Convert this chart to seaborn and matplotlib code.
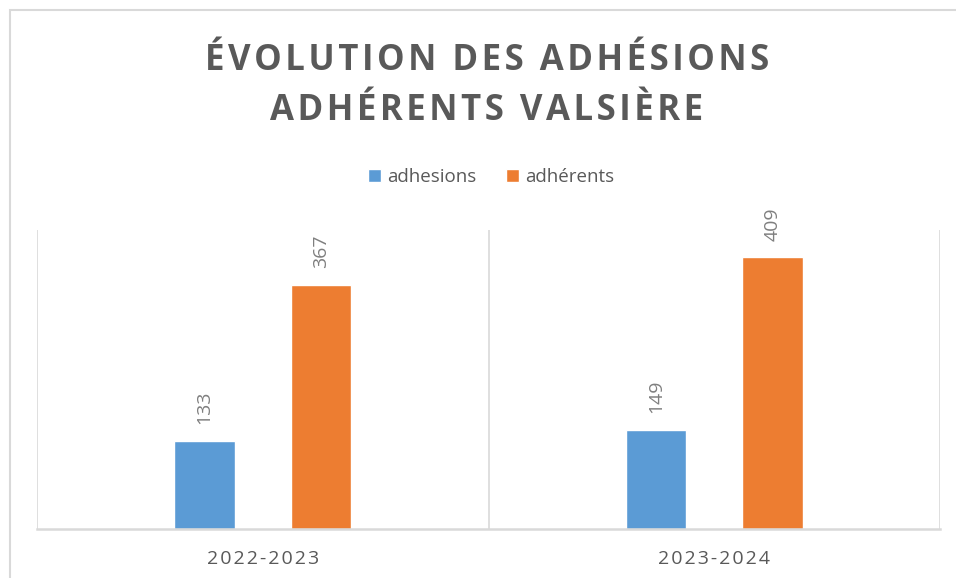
import pandas as pd
import matplotlib
matplotlib.use("Agg")
import matplotlib.pyplot as plt
import seaborn as sns
from matplotlib.patches import Patch, Rectangle

# ==========================================
# DATA
# ==========================================

periodes = ["2022-2023", "2023-2024"]
series = ["adhesions", "adhérents"]
adhesions = [133, 149]
adherents = [367, 409]

title_lines = ["ÉVOLUTION DES ADHÉSIONS", "ADHÉRENTS VALSIÈRE"]

df = pd.DataFrame({
    "periode": periodes * 2,
    "serie": [series[0]] * 2 + [series[1]] * 2,
    "valeur": adhesions + adherents,
})

# ==========================================
# STYLE
# ==========================================

sns.set_style("white")
plt.rcParams["font.family"] = ["Open Sans", "DejaVu Sans"]

blue = "#5B9BD5"
orange = "#ED7D31"
grid_col = "#D9D9D9"
text_col = "#595959"


def spaced(s, sep="\u200a"):
    return sep.join(s)


fig = plt.figure(figsize=(9.56, 5.78), dpi=100)
ax = fig.add_axes([37 / 956, 1 - 529 / 578, (940 - 37) / 956, (529 - 230) / 578])

sns.barplot(
    data=df, x="periode", y="valeur", hue="serie",
    palette=[blue, orange], width=0.516, gap=0.48,
    ax=ax, legend=False, saturation=1,
)

# data labels
for cont in ax.containers:
    ax.bar_label(cont, rotation=90, padding=12, fontsize=14, color="#7F7F7F")

ax.set_ylim(0, 450)
ax.set_xlim(-0.5, 1.5)
ax.set_xlabel("")
ax.set_ylabel("")
ax.set_yticks([])
ax.set_xticks(range(len(periodes)))
ax.set_xticklabels([spaced(p) for p in periodes],
                   fontsize=14, color=text_col)
ax.tick_params(axis="x", length=0, pad=15)

for s in ["top", "right", "left"]:
    ax.spines[s].set_visible(False)
ax.spines["bottom"].set_color(grid_col)
ax.spines["bottom"].set_linewidth(1.8)

# vertical separators between categories
for xv in [-0.5, 0.5, 1.5]:
    ax.axvline(xv, color=grid_col, linewidth=1.2, zorder=0)

# chart frame
fig.patches.append(Rectangle((10 / 956, -0.1), 1.2, 1.1 - 10 / 578,
                             transform=fig.transFigure, fill=False,
                             edgecolor=grid_col, linewidth=1.5))

# title
fig.text(487 / 956, 1 - 61 / 578, spaced(title_lines[0]), ha="center", va="center",
         fontsize=25, fontweight="bold", color=text_col)
fig.text(487 / 956, 1 - 111 / 578, spaced(title_lines[1]), ha="center", va="center",
         fontsize=25, fontweight="bold", color=text_col)

# legend
handles = [Patch(facecolor=blue), Patch(facecolor=orange)]
fig.legend(handles, series, loc="center", bbox_to_anchor=(491 / 956, 1 - 177 / 578),
           ncol=2, frameon=False, fontsize=13.5, labelcolor=text_col,
           handlelength=0.7, handleheight=0.7, handletextpad=0.3, columnspacing=1.6)

fig.savefig("out.png", dpi=100)
